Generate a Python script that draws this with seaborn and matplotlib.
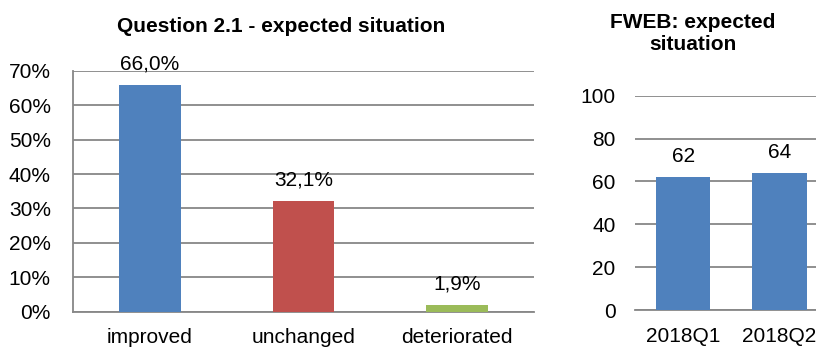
import matplotlib
matplotlib.use("Agg")
import matplotlib.pyplot as plt
import seaborn as sns
import pandas as pd
from matplotlib.ticker import FixedLocator, FuncFormatter

# Question 2.1 answers (share of respondents)
answers = ["improved", "unchanged", "deteriorated"]
answer_shares = [0.660, 0.321, 0.019]
answer_labels = ["66,0%", "32,1%", "1,9%"]
answer_colors = ["#4F81BD", "#C0504D", "#9BBB59"]

# FWEB index by quarter
quarters = ["2018Q1", "2018Q2"]
fweb_values = [62, 64]
fweb_labels = ["62", "64"]
fweb_color = "#4F81BD"

pct_ticks = [0.0, 0.1, 0.2, 0.3, 0.4, 0.5, 0.6, 0.7]
idx_ticks = [0, 20, 40, 60, 80, 100]

sns.set_theme(style="white")
plt.rcParams["font.family"] = ["Liberation Sans", "DejaVu Sans"]
plt.rcParams["text.color"] = "black"
plt.rcParams["xtick.color"] = "black"
plt.rcParams["ytick.color"] = "black"

FS = 15
GRID = "#878787"
W, H = 816, 347
fig = plt.figure(figsize=(W / 100, H / 100), dpi=100)

# ---- left chart -----------------------------------------------------------
ax1 = fig.add_axes([73 / W, (H - 311.5) / H, 461 / W, 240.5 / H])
df1 = pd.DataFrame({"answer": answers, "share": answer_shares})
sns.barplot(data=df1, x="answer", y="share", hue="answer", palette=answer_colors,
            width=0.40, legend=False, ax=ax1, saturation=1, zorder=3, linewidth=0)
ax1.set_xlim(-0.5, 2.5)
ax1.set_ylim(0, 0.7)
ax1.yaxis.set_major_locator(FixedLocator(pct_ticks))
ax1.yaxis.set_major_formatter(FuncFormatter(lambda v, p: f"{v * 100:.0f}%"))
ax1.grid(axis="y", color=GRID, linewidth=1.3, zorder=0)
ax1.set_axisbelow(True)
for side in ("top", "right"):
    ax1.spines[side].set_visible(False)
for side in ("left", "bottom"):
    ax1.spines[side].set_color(GRID)
    ax1.spines[side].set_linewidth(1.3)
ax1.xaxis.set_minor_locator(FixedLocator([-0.5, 0.5, 1.5, 2.5]))
ax1.tick_params(axis="x", which="major", length=0, pad=12, labelsize=FS)
ax1.tick_params(axis="x", which="minor", length=5, width=1.3, color=GRID, direction="out")
ax1.tick_params(axis="y", which="major", length=5, width=1.3, color=GRID,
                labelcolor="black", direction="out", pad=11, labelsize=FS)
ax1.set_xlabel("")
ax1.set_ylabel("")
for i, (v, t) in enumerate(zip(answer_shares, answer_labels)):
    ax1.annotate(t, (i, v), xytext=(0, 11), textcoords="offset points",
                 ha="center", va="baseline", fontsize=FS)

fig.text(281 / W, 1 - 27 / H, "Question 2.1 - expected situation",
         ha="center", va="center", fontsize=FS, fontweight="bold")

# ---- right chart ----------------------------------------------------------
ax2 = fig.add_axes([635 / W, (H - 310) / H, 181 / W, 214.3 / H])
df2 = pd.DataFrame({"quarter": quarters, "value": fweb_values})
sns.barplot(data=df2, x="quarter", y="value", color=fweb_color, width=0.568,
            ax=ax2, saturation=1, zorder=3, linewidth=0)
ax2.set_xlim(-0.5, -0.5 + 181 / 96.3)
ax2.set_ylim(0, 100)
ax2.yaxis.set_major_locator(FixedLocator(idx_ticks))
ax2.grid(axis="y", color=GRID, linewidth=1.3, zorder=0)
ax2.set_axisbelow(True)
for side in ("top", "right", "left"):
    ax2.spines[side].set_visible(False)
ax2.spines["bottom"].set_color(GRID)
ax2.spines["bottom"].set_linewidth(1.3)
ax2.tick_params(axis="x", length=0, pad=12, labelsize=FS)
ax2.tick_params(axis="y", length=0, pad=14, labelsize=FS)
ax2.set_xlabel("")
ax2.set_ylabel("")
for i, (v, t) in enumerate(zip(fweb_values, fweb_labels)):
    ax2.annotate(t, (i, v), xytext=(0, 11), textcoords="offset points",
                 ha="center", va="baseline", fontsize=FS, annotation_clip=False)

fig.text(693 / W, 1 - 34 / H, "FWEB: expected\nsituation",
         ha="center", va="center", fontsize=FS, fontweight="bold", linespacing=1.2)

fig.savefig("out.png", dpi=100)
